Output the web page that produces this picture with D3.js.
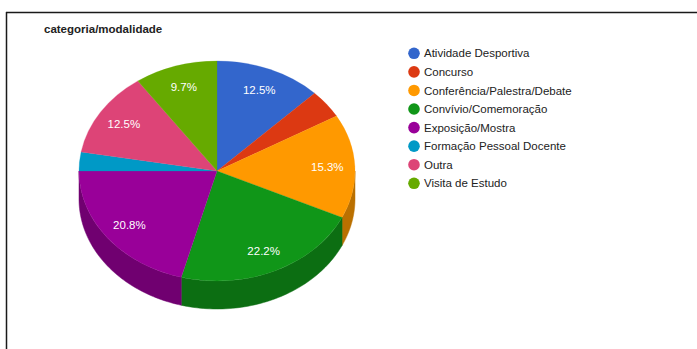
<!DOCTYPE html>
<html><head><meta charset="utf-8">
<script src="https://cdn.jsdelivr.net/npm/d3@7"></script>
<style>html,body{margin:0;padding:0;background:#fff;}svg{display:block;}</style>
</head><body>
<script>
const categories = ["Atividade Desportiva","Concurso","Conferência/Palestra/Debate","Convívio/Comemoração","Exposição/Mostra","Formação Pessoal Docente","Outra","Visita de Estudo"];
const counts = [9,3,11,16,15,2,9,7];
const colors = ["#3366cc","#dc3912","#ff9900","#109618","#990099","#0099c6","#dd4477","#66aa00"];
const title = "categoria/modalidade";

const W = 697, H = 349;
const cx = 217, cy = 171, rx = 138, ry = 110, depth = 28;
const svg = d3.select("body").append("svg").attr("width", W).attr("height", H);

// frame
svg.append("line").attr("x1",6).attr("y1",12.5).attr("x2",697).attr("y2",12.5).attr("stroke","#1a1a1a").attr("stroke-width",1.5);
svg.append("line").attr("x1",6.5).attr("y1",12).attr("x2",6.5).attr("y2",349).attr("stroke","#1a1a1a").attr("stroke-width",1.5);

svg.append("text").attr("x",44).attr("y",33).text(title)
  .attr("font-family","'Liberation Sans', Arial, sans-serif").attr("font-size","11.5px").attr("font-weight","bold").attr("fill","#222");

const total = d3.sum(counts);
const pie = d3.pie().sort(null).value(d => d)(counts);
const darken = c => { const k = d3.rgb(c); return d3.rgb(k.r*0.73, k.g*0.73, k.b*0.73).toString(); };

// sides
const g = svg.append("g");
const pt = (a, dy) => [cx + rx*Math.sin(a), cy - ry*Math.cos(a) + dy];
pie.forEach((s, i) => {
  const a0 = Math.max(s.startAngle, Math.PI/2), a1 = Math.min(s.endAngle, 3*Math.PI/2);
  if (a1 <= a0) return;
  const n = 60, top = [], bot = [];
  for (let k = 0; k <= n; k++) { const a = a0 + (a1-a0)*k/n; top.push(pt(a,0)); bot.push(pt(a,depth)); }
  const poly = top.concat(bot.reverse());
  g.append("path").attr("d", d3.line()(poly) + "Z").attr("fill", darken(colors[i]))
   .attr("stroke", darken(colors[i])).attr("stroke-width", 0.5);
});

// top face
const arc = d3.arc().innerRadius(0).outerRadius(rx);
const topG = svg.append("g").attr("transform", `translate(${cx},${cy}) scale(1,${ry/rx})`);
topG.selectAll("path").data(pie).join("path").attr("d", arc).attr("fill", (d,i) => colors[i])
  .attr("stroke", (d,i) => colors[i]).attr("stroke-width", 0.3);

// labels
pie.forEach((s, i) => {
  const pct = s.value/total*100;
  if (pct < 5) return;
  const m = (s.startAngle + s.endAngle)/2;
  const [x, y] = [cx + rx*0.8*Math.sin(m), cy - ry*0.8*Math.cos(m)];
  svg.append("text").attr("x", x).attr("y", y).attr("dy","0.35em").attr("text-anchor","middle")
    .attr("font-family","'Liberation Sans', Arial, sans-serif").attr("font-size","11.5px").attr("fill","#fff")
    .text(pct.toFixed(1) + "%");
});

// legend
const lg = svg.append("g");
categories.forEach((c, i) => {
  const y = 53.3 + i*18.57;
  lg.append("circle").attr("cx",414).attr("cy",y).attr("r",5.8).attr("fill",colors[i]);
  lg.append("text").attr("x",424).attr("y",y).attr("dy","0.36em").text(c)
    .attr("font-family","'Liberation Sans', Arial, sans-serif").attr("font-size","11.5px").attr("fill","#222");
});
</script>
</body></html>
